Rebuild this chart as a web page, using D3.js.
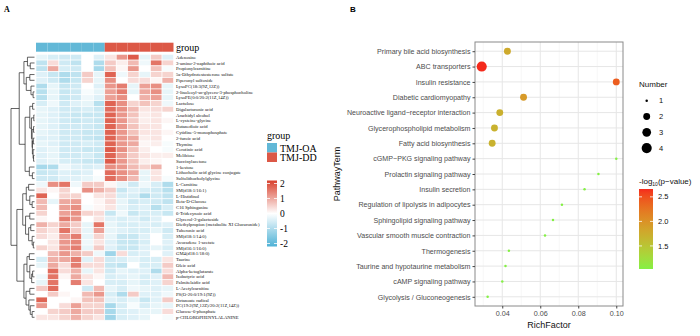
<!DOCTYPE html>
<html>
<head>
<meta charset="utf-8">
<script src="https://cdn.jsdelivr.net/npm/d3@7"></script>
<style>
  body { margin: 0; background: #fff; }
  svg { display: block; }
</style>
</head>
<body>
<div id="chart"></div>
<script>
// ---------- panel A data ----------
const metabolites = [
  "Adenosine", "3-amino-2-naphthoic acid", "Propionylcarnitine", "5a-Dihydrotestosterone sulfate",
  "Piperonyl sulfoxide", "LysoPC(18:3(9Z,12Z))", "2-linoleoyl-sn-glycero-3-phosphocholine",
  "LysoPE(0:0/20:2(11Z,14Z))", "Lactulose", "Digalacturonic acid", "Arachidyl alcohol",
  "L-cysteine-glycine", "Butanedioic acid", "Cytidine-5-monophosphate", "2-furoic acid", "Thymine",
  "Cerotinic acid", "Melibiose", "Succinylacetone", "1-kestose", "Lithocholic acid glycine conjugate",
  "Sulfolithocholylglycine", "L-Carnitine", "SM(d18:1/16:1)", "L-Histidinol", "Beta-D-Glucose",
  "C16 Sphinganine", "6-Tridecynoic acid", "Glycerol-3-galactoside",
  "Diethylpropion (metabolite XI Glucuronide)", "Tuberonic acid", "SM(d18:1/14:0)",
  "Avocadene 1-acetate", "SM(d16:1/16:0)", "GM4(d18:1/18:0)", "Taurine", "Oleic acid",
  "Alpha-ketoglutarate", "Isobutyric acid", "Palmitelaidic acid", "L-Acetylcarnitine",
  "PS(O-20:0/19:1(9Z))", "Octanoate radical", "PC(19:2(9Z,12Z)/20:2(11Z,14Z))",
  "Glucose-6-phosphate", "p-CHLOROPHENYLALANINE"
];
const samples = ["OA1","OA2","OA3","OA4","OA5","OA6","DD1","DD2","DD3","DD4","DD5","DD6"];
const sampleGroup = ["TMJ-OA","TMJ-OA","TMJ-OA","TMJ-OA","TMJ-OA","TMJ-OA","TMJ-DD","TMJ-DD","TMJ-DD","TMJ-DD","TMJ-DD","TMJ-DD"];
const groupNames = ["TMJ-OA", "TMJ-DD"];
const groupColors = ["#62b8d7", "#dc5846"];
const scaleTicks = [2, 1, 0, -1, -2];

// z-scores, one row per metabolite, columns follow samples
const zScores = [
  [-0.3,-0.5,-0.6,-0.6, 0.0,-0.4,  0.3, 1.2, 1.9,-0.3, 0.6,-0.4],
  [-0.8, 0.4,-0.6,-0.8, 0.0,-1.0,  0.6, 0.2, 0.8,-0.2, 1.6, 0.5],
  [-0.8, 1.0,-0.5,-0.6, 0.0,-1.1,  0.7, 0.1, 1.2, 0.0, 0.7,-0.1],
  [-0.4,-0.7,-1.0,-0.8, 0.6,-0.3,  1.8,-0.2, 0.5,-0.3, 0.5, 0.5],
  [-0.4,-0.6,-1.0,-0.7, 0.5,-0.3,  1.3, 0.0, 0.4, 0.4, 0.1, 0.9],
  [-1.0,-0.3,-0.7,-0.6, 0.0,-0.4,  1.2, 1.5,-0.3, 1.1, 1.3,-0.3],
  [-0.9,-0.3,-0.7,-0.6,-0.1,-0.3,  1.1, 1.5,-0.3, 1.0, 1.3,-0.3],
  [-0.9,-0.3,-0.7,-0.6,-0.2,-0.4,  1.1, 1.3, 0.0, 0.9, 1.1,-0.3],
  [-0.5,-0.2,-0.6,-0.4,-0.3,-0.9,  1.8, 1.3, 0.5, 0.7, 0.5,-0.2],
  [-0.3,-0.4,-0.6,-0.6,-0.5,-0.7,  1.7, 1.3, 0.8, 0.3, 0.4, 0.5],
  [-0.3,-0.4,-0.6,-0.7,-0.7,-0.7,  1.8, 1.2, 0.7, 0.2, 0.3, 0.0],
  [-0.3,-0.4,-0.6,-0.7,-0.6,-0.7,  1.8, 1.2, 0.6, 0.2, 0.3, 0.1],
  [-0.3,-0.4,-0.6,-0.6,-0.6,-0.7,  1.8, 1.2, 0.7, 0.3, 0.3, 0.0],
  [-0.3,-0.4,-0.6,-0.6,-0.7,-0.7,  1.8, 1.2, 0.7, 0.3, 0.3, 0.1],
  [-0.4,-0.4,-0.6,-0.6,-0.7,-0.8,  1.8, 1.2, 1.0, 0.2, 0.3, 0.0],
  [-0.3,-0.4,-0.6,-0.6,-0.5,-0.6,  1.8, 1.2, 1.0, 0.1, 0.2,-0.1],
  [-0.4,-0.3,-0.6,-0.6,-0.7,-0.7,  1.9, 1.3, 0.7, 0.2, 0.0,-0.1],
  [-0.4,-0.3,-0.6,-0.6,-0.5,-0.7,  1.8, 1.1, 0.6, 0.3, 0.2, 0.2],
  [-0.4,-0.3,-0.5,-0.6,-0.7,-0.8,  1.9, 1.2, 0.7, 0.2, 0.1, 0.0],
  [-1.1,-1.0,-0.2,-0.4,-0.5,-0.4,  1.3, 1.2, 0.8, 0.5, 0.9, 0.0],
  [-0.7,-0.6,-0.4,-0.5,-0.4, 0.0,  1.7, 1.3, 1.0,-0.3, 0.3, 0.0],
  [-0.6,-0.6,-0.4,-0.4,-0.3,-0.1,  1.7, 1.3, 0.8,-0.3, 0.3,-0.1],
  [-0.2, 1.3, 1.6,-0.2, 0.6, 0.6,  0.1,-0.3,-0.6,-0.2,-0.5,-1.0],
  [ 0.3, 0.1, 0.5, 0.0, 1.3, 0.9,  0.6,-0.7,-0.4,-0.5,-0.6,-0.9],
  [ 1.8, 0.0, 0.5, 0.5, 0.0, 0.3,  0.4,-0.5,-0.5,-1.0,-0.6,-0.8],
  [ 0.8,-0.3, 1.0, 1.1, 0.0, 0.1,  0.4,-0.3,-0.6,-0.5,-0.6,-0.8],
  [ 0.8, 0.0, 1.1, 1.3,-0.1, 0.1,  0.3,-0.3,-0.5,-0.4,-0.9,-0.5],
  [ 0.5, 0.0, 1.1, 1.3, 0.5, 0.4, -0.7,-0.2,-0.7,-0.5,-0.5,-0.7],
  [ 0.1, 0.0, 1.5, 1.2, 0.0, 0.3, -0.4,-0.5,-0.4,-0.6,-0.4, 0.0],
  [ 0.9, 0.5, 1.0, 0.6,-0.3, 1.6, -0.3,-0.5,-0.5,-0.4,-0.5,-0.4],
  [ 0.5, 0.3, 1.6, 0.6,-0.3, 1.1, -0.3,-0.4,-0.5,-0.5,-0.3,-0.6],
  [ 0.4, 0.2, 1.1, 1.5,-0.3, 0.5, -0.3,-0.7,-0.7,-0.4, 0.0,-0.5],
  [ 0.0, 0.3, 1.2, 1.4,-0.2, 0.3, -0.4,-0.7,-0.7,-0.5, 0.0,-0.4],
  [ 0.5, 0.3, 1.2, 1.5,-0.3, 0.6, -0.4,-0.7,-0.7,-0.4,-0.3,-0.5],
  [ 0.0, 0.8, 1.2, 0.9, 0.6,-0.2, -1.2, 0.4,-0.5,-0.4, 0.0,-0.4],
  [-0.5, 0.9, 1.0, 1.5,-0.4, 0.4, -0.6,-0.5,-0.3,-0.5,-0.5, 0.3],
  [-0.3, 1.0, 0.4, 1.5, 0.4, 0.4, -0.7,-0.8, 0.0,-0.5,-0.5, 0.6],
  [ 0.0, 1.7, 0.4, 0.9,-0.3, 0.3, -0.6,-0.3,-0.4,-0.4,-1.0, 0.4],
  [-0.2, 1.6, 0.1, 1.0, 0.3, 0.1, -0.5,-0.4,-0.3,-0.5,-0.4, 0.8],
  [-0.3, 1.6, 0.0, 1.5, 0.3, 0.0, -0.5,-0.5,-0.3,-0.5,-0.4, 0.5],
  [ 0.6, 1.7, 0.0, 0.0,-0.6, 0.8, -0.3,-0.5,-0.2,-0.3,-0.4,-0.3],
  [ 0.0, 0.6, 0.1, 0.0, 0.8, 1.2, -0.5,-1.0, 0.6,-0.4,-0.4,-0.2],
  [ 1.8, 0.0, 0.0, 0.1, 0.7, 0.7, -0.4,-0.5,-0.3,-0.7,-0.4, 0.6],
  [ 1.2, 0.0, 0.4, 1.1, 0.5, 0.5, -1.1,-0.5,-0.1,-0.5,-0.3,-0.3],
  [ 0.0, 0.5, 0.6, 1.0, 0.6, 0.6, -1.1,-0.5,-0.4,-0.3,-0.3, 0.4],
  [ 0.3, 0.3, 0.5, 0.9, 0.5, 0.3, -1.2,-0.5,-0.4,-0.3, 0.0,-0.1]
];

// row dendrogram: [merge height, left, right], leaves are row indices
const rowTree = [10,
  [6.5,
    [4.5, [3.0, 0, [1.8, 1, 2]], [3.5, [2.0, 3, 4], [1.5, 5, [0.6, 6, 7]]]],
    [4.0,
      [2.0, [0.8, 8, 9], [1.3, [0.3, 10, 11], [1.0, [0.4, 12, 13], [0.9, [0.5, 14, 15], [0.6, 16, [0.4, 17, 18]]]]]],
      [2.2, 19, [0.9, 20, 21]]]],
  [7.5,
    [5.0,
      [3.5, [2.5, 22, 23], [2.0, 24, [1.0, 25, 26]]],
      [3.8, [2.0, 27, 28], [2.5, [1.6, 29, 30], [1.0, 31, [0.5, 32, 33]]]]],
    [4.5,
      [3.2, [2.2, 34, 35], [2.0, 36, [1.2, [0.8, 37, 38], 39]]],
      [3.6, [2.0, 40, 41], [2.4, 42, [1.8, 43, [1.0, 44, 45]]]]]]
];

// ---------- panel B data ----------
const pathways = [
  "Primary bile acid biosynthesis", "ABC transporters", "Insulin resistance",
  "Diabetic cardiomyopathy", "Neuroactive ligand\u2212receptor interaction",
  "Glycerophospholipid metabolism", "Fatty acid biosynthesis", "cGMP\u2212PKG signaling pathway",
  "Prolactin signaling pathway", "Insulin secretion", "Regulation of lipolysis in adipocytes",
  "Sphingolipid signaling pathway", "Vascular smooth muscle contraction", "Thermogenesis",
  "Taurine and hypotaurine metabolism", "cAMP signaling pathway", "Glycolysis / Gluconeogenesis"
];
const richFactor = [0.0427, 0.0292, 0.1000, 0.0512, 0.0387, 0.0359, 0.0347, 0.1000, 0.0906,
  0.0833, 0.0714, 0.0667, 0.0625, 0.0435, 0.0417, 0.0400, 0.0323];
const hitNumber = [2, 4, 2, 2, 2, 2, 2, 1, 1, 1, 1, 1, 1, 1, 1, 1, 1];
const negLogP = [1.78, 2.66, 2.42, 1.93, 1.72, 1.70, 1.70, 1.03, 1.03, 1.03, 1.03, 1.03, 1.03,
  1.03, 1.03, 1.03, 1.03];
const xTicks = [0.04, 0.06, 0.08, 0.10];
const xMinorTicks = [0.03, 0.05, 0.07, 0.09];
const numberBreaks = [1, 2, 3, 4];
const pBreaks = [2.5, 2.0, 1.5];

const W = 700, H = 336;
const svg = d3.select("#chart").append("svg").attr("width", W).attr("height", H);
svg.append("rect").attr("width", W).attr("height", H).attr("fill", "#fff");

const serif = "'Liberation Serif', 'DejaVu Serif', serif";
const sans = "'Liberation Sans', Arial, sans-serif";

// ================= Panel A =================
const gA = svg.append("g");
gA.append("text").attr("x", 4).attr("y", 12).attr("font-family", serif)
  .attr("font-weight", "bold").attr("font-size", 8).text("A");

const xCol = d3.scaleBand().domain(samples).range([36, 173.5]);
const yRow = d3.scaleBand().domain(metabolites).range([54.3, 320.2]);
const heatColor = d3.scaleLinear().domain([-2.2, 0, 2.2])
  .range(["#4fb2d6", "#ffffff", "#d8412d"]);
const groupColor = d3.scaleOrdinal().domain(groupNames).range(groupColors);

// annotation bar
gA.selectAll("rect.anno").data(samples).enter().append("rect")
  .attr("class", "anno")
  .attr("x", d => xCol(d)).attr("y", 42.7)
  .attr("width", xCol.bandwidth()).attr("height", 9)
  .attr("fill", (d, i) => groupColor(sampleGroup[i]));
gA.append("text").attr("x", 176).attr("y", 50.5).attr("font-family", serif)
  .attr("font-size", 10).text("group");

// cells
const cells = [];
zScores.forEach((row, r) => row.forEach((v, c) => cells.push({ r, c, v })));
gA.selectAll("rect.cell").data(cells).enter().append("rect")
  .attr("class", "cell")
  .attr("x", d => xCol(samples[d.c])).attr("y", d => yRow(metabolites[d.r]))
  .attr("width", xCol.bandwidth()).attr("height", yRow.bandwidth())
  .attr("fill", d => heatColor(d.v))
  .attr("stroke", "#fff").attr("stroke-width", 0.6);

// row labels
gA.selectAll("text.rowlab").data(metabolites).enter().append("text")
  .attr("class", "rowlab")
  .attr("x", 176).attr("y", d => yRow(d) + yRow.bandwidth() / 2)
  .attr("dy", "0.35em").attr("font-family", serif).attr("font-size", 4.7)
  .attr("fill", "#111").text(d => d);

// dendrogram
const hX = d3.scaleLinear().domain([0, 10]).range([34.5, 11]);
const dendro = gA.append("g").attr("stroke", "#222").attr("stroke-width", 0.7).attr("fill", "none");
function drawNode(node) {
  if (typeof node === "number") {
    return { y: yRow(metabolites[node]) + yRow.bandwidth() / 2, h: 0 };
  }
  const [h, l, r] = node;
  const a = drawNode(l), b = drawNode(r);
  const x = hX(h);
  dendro.append("path").attr("d",
    `M${hX(a.h)},${a.y}H${x}V${b.y}H${hX(b.h)}`);
  return { y: (a.y + b.y) / 2, h };
}
drawNode(rowTree);

// group legend
gA.append("text").attr("x", 267).attr("y", 139).attr("font-family", serif)
  .attr("font-size", 10).text("group");
groupNames.forEach((g, i) => {
  gA.append("rect").attr("x", 267).attr("y", 143 + i * 9.5).attr("width", 10).attr("height", 9.5)
    .attr("fill", groupColor(g));
  gA.append("text").attr("x", 280).attr("y", 148 + i * 9.5).attr("dy", "0.35em")
    .attr("font-family", serif).attr("font-size", 10).text(g);
});

// colour scale legend
const legY = d3.scaleLinear().domain([-2.2, 2.2]).range([246.5, 180.5]);
const defsA = svg.append("defs");
const gradA = defsA.append("linearGradient").attr("id", "heatGrad")
  .attr("x1", 0).attr("y1", 1).attr("x2", 0).attr("y2", 0);
d3.range(0, 1.0001, 0.1).forEach(t => {
  gradA.append("stop").attr("offset", t).attr("stop-color", heatColor(-2.2 + 4.4 * t));
});
gA.append("rect").attr("x", 267).attr("y", 180.5).attr("width", 10).attr("height", 66)
  .attr("fill", "url(#heatGrad)");
scaleTicks.forEach(t => {
  gA.append("line").attr("x1", 267).attr("x2", 270).attr("y1", legY(t)).attr("y2", legY(t))
    .attr("stroke", "#fff").attr("stroke-width", 0.8);
  gA.append("line").attr("x1", 274).attr("x2", 277).attr("y1", legY(t)).attr("y2", legY(t))
    .attr("stroke", "#fff").attr("stroke-width", 0.8);
  gA.append("text").attr("x", 280).attr("y", legY(t)).attr("dy", "0.35em")
    .attr("font-family", serif).attr("font-size", 9.5).text(t);
});

// ================= Panel B =================
const gB = svg.append("g");
gB.append("text").attr("x", 350).attr("y", 12).attr("font-family", sans)
  .attr("font-weight", "bold").attr("font-size", 8).text("B");

const px0 = 475, px1 = 623, py0 = 42, py1 = 306;
const [rMin, rMax] = d3.extent(richFactor);
const pad = (rMax - rMin) * 0.05;
const x = d3.scaleLinear().domain([rMin - pad, rMax + pad]).range([px0, px1]);
const y = d3.scalePoint().domain(pathways).range([py0, py1]).padding(0.6);
const pColor = d3.scaleLinear().domain(d3.extent(negLogP))
  .range(["#84f044", "#f42a1c"]).interpolate(d3.interpolateLab);
const rSqrt = d3.scaleSqrt().domain([0, 3]).range([0, 3.8]);
const radius = n => 1.25 + rSqrt(n - 1);

// grid
gB.selectAll("line.minor").data(xMinorTicks).enter().append("line")
  .attr("x1", d => x(d)).attr("x2", d => x(d)).attr("y1", py0).attr("y2", py1)
  .attr("stroke", "#f2f2f2").attr("stroke-width", 0.6);
gB.selectAll("line.majx").data(xTicks).enter().append("line")
  .attr("x1", d => x(d)).attr("x2", d => x(d)).attr("y1", py0).attr("y2", py1)
  .attr("stroke", "#e6e6e6").attr("stroke-width", 1);
gB.selectAll("line.majy").data(pathways).enter().append("line")
  .attr("x1", px0).attr("x2", px1).attr("y1", d => y(d)).attr("y2", d => y(d))
  .attr("stroke", "#e6e6e6").attr("stroke-width", 1);

// points
const pts = pathways.map((p, i) => ({ p, rf: richFactor[i], n: hitNumber[i], lp: negLogP[i] }));
gB.selectAll("circle.pt").data(pts).enter().append("circle")
  .attr("class", "pt")
  .attr("cx", d => x(d.rf)).attr("cy", d => y(d.p))
  .attr("r", d => radius(d.n)).attr("fill", d => pColor(d.lp));

gB.append("rect").attr("x", px0).attr("y", py0).attr("width", px1 - px0).attr("height", py1 - py0)
  .attr("fill", "none").attr("stroke", "#8a8a8a").attr("stroke-width", 1);

// axes
const xAxis = gB.append("g").attr("transform", `translate(0,${py1})`)
  .call(d3.axisBottom(x).tickValues(xTicks).tickFormat(d3.format(".2f")).tickSize(2.5).tickPadding(2));
const yAxis = gB.append("g").attr("transform", `translate(${px0},0)`)
  .call(d3.axisLeft(y).tickSize(2.5).tickPadding(2));
[xAxis, yAxis].forEach(a => {
  a.select(".domain").remove();
  a.selectAll("line").attr("stroke", "#444");
  a.selectAll("text").attr("font-family", sans).attr("fill", "#4d4d4d");
});
xAxis.selectAll("text").attr("font-size", 7.2);
yAxis.selectAll("text").attr("font-size", 7.1);

gB.append("text").attr("x", (px0 + px1) / 2).attr("y", 328).attr("text-anchor", "middle")
  .attr("font-family", sans).attr("font-size", 9).attr("fill", "#111").text("RichFactor");
gB.append("text").attr("transform", `translate(340,${(py0 + py1) / 2}) rotate(-90)`)
  .attr("text-anchor", "middle").attr("font-family", sans).attr("font-size", 9)
  .attr("fill", "#111").text("PathwayTerm");

// size legend
gB.append("text").attr("x", 639).attr("y", 87).attr("font-family", sans)
  .attr("font-size", 8).attr("fill", "#111").text("Number");
numberBreaks.forEach((n, i) => {
  const cy = 100.7 + i * 15.8;
  gB.append("circle").attr("cx", 646.7).attr("cy", cy).attr("r", radius(n)).attr("fill", "#000");
  gB.append("text").attr("x", 659).attr("y", cy).attr("dy", "0.35em").attr("font-family", sans)
    .attr("font-size", 7.5).attr("fill", "#111").text(n);
});

// colour legend
const lt = gB.append("text").attr("x", 639).attr("y", 184).attr("font-family", sans)
  .attr("font-size", 8).attr("fill", "#111");
lt.append("tspan").text("-log");
lt.append("tspan").attr("font-size", 5).attr("dy", 2).text("10");
lt.append("tspan").attr("dy", -2).text("(p\u2212value)");

const [lpMin, lpMax] = d3.extent(negLogP);
const cbY = d3.scaleLinear().domain([lpMin, lpMax]).range([269, 189]);
const gradB = defsA.append("linearGradient").attr("id", "pGrad")
  .attr("x1", 0).attr("y1", 1).attr("x2", 0).attr("y2", 0);
d3.range(0, 1.0001, 0.05).forEach(t => {
  gradB.append("stop").attr("offset", t).attr("stop-color", pColor(lpMin + (lpMax - lpMin) * t));
});
gB.append("rect").attr("x", 639).attr("y", 189).attr("width", 14).attr("height", 80)
  .attr("fill", "url(#pGrad)");
pBreaks.forEach(b => {
  gB.append("line").attr("x1", 639).attr("x2", 642).attr("y1", cbY(b)).attr("y2", cbY(b))
    .attr("stroke", "#fff").attr("stroke-width", 0.8);
  gB.append("line").attr("x1", 650).attr("x2", 653).attr("y1", cbY(b)).attr("y2", cbY(b))
    .attr("stroke", "#fff").attr("stroke-width", 0.8);
  gB.append("text").attr("x", 658).attr("y", cbY(b)).attr("dy", "0.35em").attr("font-family", sans)
    .attr("font-size", 7.5).attr("fill", "#111").text(d3.format(".1f")(b));
});
</script>
</body>
</html>
